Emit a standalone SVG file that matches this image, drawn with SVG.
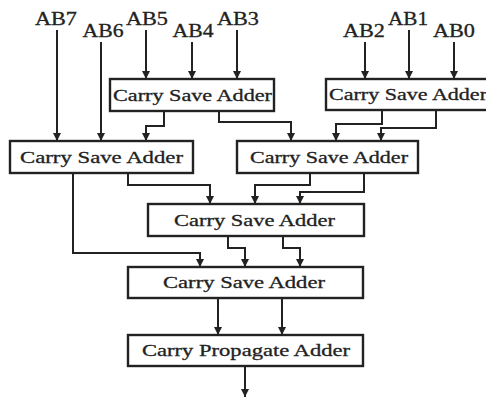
<svg xmlns="http://www.w3.org/2000/svg" width="486" height="398" viewBox="0 0 486 398">
<style>
.box{fill:#fff;stroke:#222;stroke-width:2.4}
.t{font-family:"Liberation Serif","Times New Roman",serif;font-size:17px;fill:#222;stroke:#222;stroke-width:0.3}
.l{font-family:"Liberation Serif","Times New Roman",serif;font-size:18px;fill:#222;stroke:#222;stroke-width:0.3;text-anchor:middle}
.c{fill:none;stroke:#222;stroke-width:2;marker-end:url(#ah)}
</style>
<defs>
<marker id="ah" markerUnits="userSpaceOnUse" markerWidth="8" markerHeight="8" refX="8" refY="4" orient="auto" viewBox="0 0 8 8">
<path d="M0,0 L8,4 L0,8 Z" fill="#222"/>
</marker>
</defs>
<rect width="486" height="398" fill="#fff"/>
<g id="labels">
<text class="l" x="56" y="25" textLength="42" lengthAdjust="spacingAndGlyphs">AB7</text>
<text class="l" x="103" y="37" textLength="41" lengthAdjust="spacingAndGlyphs">AB6</text>
<text class="l" x="147" y="25" textLength="42" lengthAdjust="spacingAndGlyphs">AB5</text>
<text class="l" x="193" y="37" textLength="41" lengthAdjust="spacingAndGlyphs">AB4</text>
<text class="l" x="238" y="25" textLength="42" lengthAdjust="spacingAndGlyphs">AB3</text>
<text class="l" x="364" y="37" textLength="42" lengthAdjust="spacingAndGlyphs">AB2</text>
<text class="l" x="408" y="25" textLength="40" lengthAdjust="spacingAndGlyphs">AB1</text>
<text class="l" x="454" y="37" textLength="42" lengthAdjust="spacingAndGlyphs">AB0</text>
</g>
<g id="connectors">
<path class="c" d="M57,30 V141"/>
<path class="c" d="M101,42 V141"/>
<path class="c" d="M146,30 V79"/>
<path class="c" d="M192,42 V79"/>
<path class="c" d="M237,30 V79"/>
<path class="c" d="M365,42 V79"/>
<path class="c" d="M409,30 V79"/>
<path class="c" d="M454,42 V79"/>
<path class="c" d="M164,111 V126 H146 V141"/>
<path class="c" d="M219,111 V122 H291 V141"/>
<path class="c" d="M382,110 V124 H336 V141"/>
<path class="c" d="M436,110 V128 H381 V141"/>
<path class="c" d="M73,173 V253 H200 V267"/>
<path class="c" d="M128,173 V185 H210 V204"/>
<path class="c" d="M310,173 V185 H255 V204"/>
<path class="c" d="M364,173 V192 H300 V204"/>
<path class="c" d="M228,236 V248 H245 V267"/>
<path class="c" d="M283,236 V248 H300 V267"/>
<path class="c" d="M218,298 V335"/>
<path class="c" d="M282,298 V335"/>
<path class="c" d="M245,366 V397"/>
</g>
<g id="csa1"><rect class="box" x="110" y="79" width="164" height="32"/><text class="t" x="113" y="101" textLength="159" lengthAdjust="spacingAndGlyphs">Carry Save Adder</text></g>
<g id="csa2"><rect class="box" x="326" y="79" width="162" height="31"/><text class="t" x="329" y="100" textLength="158" lengthAdjust="spacingAndGlyphs">Carry Save Adder</text></g>
<g id="csa3"><rect class="box" x="10" y="141" width="183" height="32"/><text class="t" x="20" y="163" textLength="163" lengthAdjust="spacingAndGlyphs">Carry Save Adder</text></g>
<g id="csa4"><rect class="box" x="237" y="141" width="181" height="32"/><text class="t" x="250" y="163" textLength="158" lengthAdjust="spacingAndGlyphs">Carry Save Adder</text></g>
<g id="csa5"><rect class="box" x="148" y="204" width="216" height="32"/><text class="t" x="174" y="226" textLength="161" lengthAdjust="spacingAndGlyphs">Carry Save Adder</text></g>
<g id="csa6"><rect class="box" x="128" y="267" width="235" height="31"/><text class="t" x="163" y="288" textLength="162" lengthAdjust="spacingAndGlyphs">Carry Save Adder</text></g>
<g id="cpa"><rect class="box" x="128" y="335" width="235" height="31"/><text class="t" x="142" y="356" textLength="208" lengthAdjust="spacingAndGlyphs">Carry Propagate Adder</text></g>
</svg>
